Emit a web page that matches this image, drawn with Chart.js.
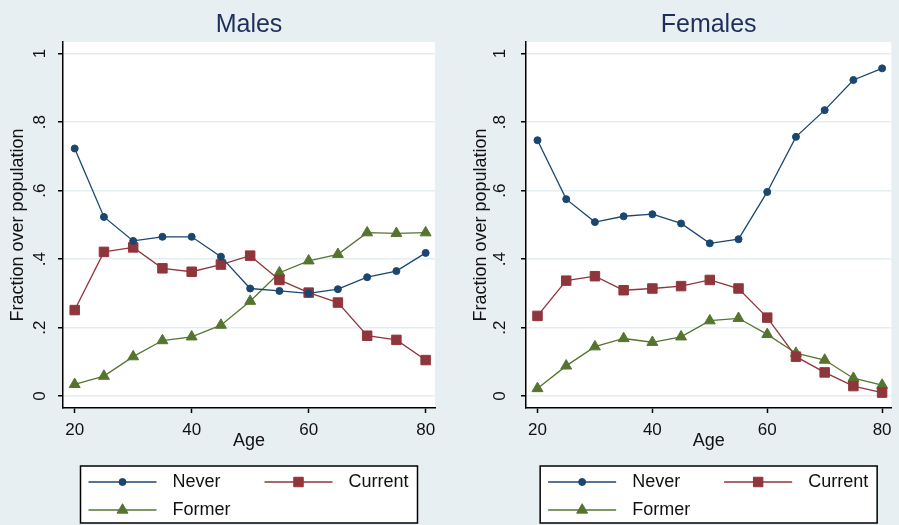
<!DOCTYPE html>
<html lang="en">
<head>
<meta charset="UTF-8">
<title>Smoking status by age</title>
<script src="https://cdn.jsdelivr.net/npm/chart.js"></script>
<style>
  body { margin: 0; background: #e8eff2; }
  #wrap { position: relative; width: 899px; height: 525px; }
  canvas { position: absolute; top: 0; }
  #males { left: 0; }
  #females { left: 450px; }
</style>
</head>
<body>
<div id="wrap">
  <canvas id="males" width="450" height="525"></canvas>
  <canvas id="females" width="449" height="525"></canvas>
</div>
<script>
// values
const ages = [20, 25, 30, 35, 40, 45, 50, 55, 60, 65, 70, 75, 80];

const maleNever   = [0.723, 0.523, 0.453, 0.465, 0.465, 0.407, 0.314, 0.307, 0.300, 0.312, 0.347, 0.365, 0.418];
const maleCurrent = [0.251, 0.421, 0.434, 0.373, 0.363, 0.384, 0.410, 0.339, 0.302, 0.273, 0.176, 0.164, 0.105];
const maleFormer  = [0.034, 0.058, 0.115, 0.162, 0.173, 0.207, 0.277, 0.360, 0.395, 0.414, 0.477, 0.475, 0.477];

const femaleNever   = [0.747, 0.575, 0.508, 0.525, 0.531, 0.504, 0.446, 0.458, 0.596, 0.757, 0.835, 0.923, 0.957];
const femaleCurrent = [0.234, 0.337, 0.350, 0.309, 0.314, 0.321, 0.339, 0.314, 0.229, 0.115, 0.069, 0.029, 0.010];
const femaleFormer  = [0.022, 0.088, 0.144, 0.168, 0.157, 0.173, 0.220, 0.227, 0.180, 0.125, 0.105, 0.052, 0.032];

const xTicks = [20, 40, 60, 80];
const yTicks = [0, 0.2, 0.4, 0.6, 0.8, 1];
const yTickLabels = ['0', '.2', '.4', '.6', '.8', '1'];

const FONT = '"Liberation Sans", Arial, sans-serif';
Chart.defaults.font.family = FONT;

function series(label, vals, color, style, radius) {
    return {
        label: label,
        data: ages.map((a, i) => ({ x: a, y: vals[i] })),
        borderColor: color,
        backgroundColor: color,
        pointBackgroundColor: color,
        pointBorderColor: color,
        borderWidth: 1.3,
        pointStyle: style,
        pointRadius: radius,
        pointBorderWidth: 1,
        tension: 0
    };
}

// background, panel title, rotated y labels and the boxed legend
function panelPlugin(title, tickGap) {
    return {
        id: 'panel',
        beforeDraw(chart) {
            const ctx = chart.ctx, a = chart.chartArea;
            ctx.save();
            ctx.fillStyle = '#e8eff2';
            ctx.fillRect(0, 0, chart.width, chart.height);
            ctx.fillStyle = '#fff';
            ctx.fillRect(a.left, a.top, a.right - a.left, a.bottom - a.top);
            ctx.restore();
        },
        afterDraw(chart) {
            const ctx = chart.ctx, a = chart.chartArea;
            const cx = (a.left + a.right) / 2;
            ctx.save();

            ctx.font = '25px ' + FONT;
            ctx.fillStyle = '#1e2f5a';
            ctx.textAlign = 'center';
            ctx.textBaseline = 'alphabetic';
            ctx.fillText(title, cx, 32);

            const ys = chart.scales.y;
            ctx.font = '17px ' + FONT;
            ctx.fillStyle = '#111';
            yTicks.forEach((v, i) => {
                ctx.save();
                ctx.translate(a.left - tickGap, ys.getPixelForValue(v));
                ctx.rotate(-Math.PI / 2);
                ctx.fillText(yTickLabels[i], 0, 0);
                ctx.restore();
            });

            const bw = 337, bh = 57, bx = cx - bw / 2, by = 466;
            ctx.fillStyle = '#fff';
            ctx.fillRect(bx, by, bw, bh);
            ctx.strokeStyle = '#000';
            ctx.lineWidth = 1.5;
            ctx.strokeRect(bx, by, bw, bh);

            const slots = [[0, 0], [176, 0], [0, 28]];
            ctx.font = '18px ' + FONT;
            ctx.textAlign = 'left';
            ctx.textBaseline = 'middle';
            chart.data.datasets.forEach((ds, i) => {
                const sx = bx + slots[i][0], sy = by + 16 + slots[i][1];
                ctx.strokeStyle = ds.borderColor;
                ctx.fillStyle = ds.borderColor;
                ctx.lineWidth = ds.borderWidth;
                ctx.beginPath();
                ctx.moveTo(sx + 8, sy);
                ctx.lineTo(sx + 76, sy);
                ctx.stroke();
                ctx.lineWidth = 1;
                Chart.helpers.drawPoint(ctx, {
                    pointStyle: ds.pointStyle, radius: ds.pointRadius, rotation: 0, borderWidth: 1
                }, sx + 42, sy);
                ctx.fillStyle = '#111';
                ctx.fillText(ds.label, sx + 92, sy);
            });
            ctx.restore();
        }
    };
}

function makePanel(id, title, never, current, former, padLeft, padRight, tickGap) {
    return new Chart(document.getElementById(id), {
        type: 'line',
        data: {
            datasets: [
                series('Never', never, '#1a476f', 'circle', 3.5),
                series('Current', current, '#90353b', 'rect', 6.7),
                series('Former', former, '#55752f', 'triangle', 6.3)
            ]
        },
        plugins: [panelPlugin(title, tickGap)],
        options: {
            responsive: false,
            animation: false,
            layout: { padding: { left: padLeft, right: padRight, top: 42, bottom: 70 } },
            plugins: {
                legend: { display: false },
                tooltip: { enabled: false }
            },
            scales: {
                x: {
                    type: 'linear',
                    min: 18,
                    max: 81.6,
                    afterBuildTicks: s => { s.ticks = xTicks.map(v => ({ value: v })); },
                    afterFit: s => { s.height = 47; s.paddingLeft = 0; s.paddingRight = 0; },
                    grid: { drawOnChartArea: false, tickLength: 5, tickColor: '#000', tickWidth: 1.5 },
                    border: { display: true, color: '#000', width: 1.5 },
                    ticks: { color: '#111', font: { size: 17 }, padding: 7, maxRotation: 0, autoSkip: false },
                    title: { display: true, text: 'Age', color: '#111', font: { size: 18 }, padding: { top: 0, bottom: 3 } }
                },
                y: {
                    type: 'linear',
                    min: -0.035,
                    max: 1.034,
                    afterBuildTicks: s => { s.ticks = yTicks.map(v => ({ value: v })); },
                    afterFit: s => { s.width = 63; },
                    grid: { color: '#e4eef1', lineWidth: 1.5, tickLength: 5, tickColor: '#000', tickWidth: 1.5 },
                    border: { display: true, color: '#000', width: 1.5 },
                    ticks: { display: false },
                    title: { display: true, text: 'Fraction over population', color: '#111', font: { size: 18 }, padding: { top: 7, bottom: 0 } }
                }
            }
        }
    });
}

makePanel('males', 'Males', maleNever, maleCurrent, maleFormer, 0, 15, 18);
makePanel('females', 'Females', femaleNever, femaleCurrent, femaleFormer, 13, 1, 21);
</script>
</body>
</html>
